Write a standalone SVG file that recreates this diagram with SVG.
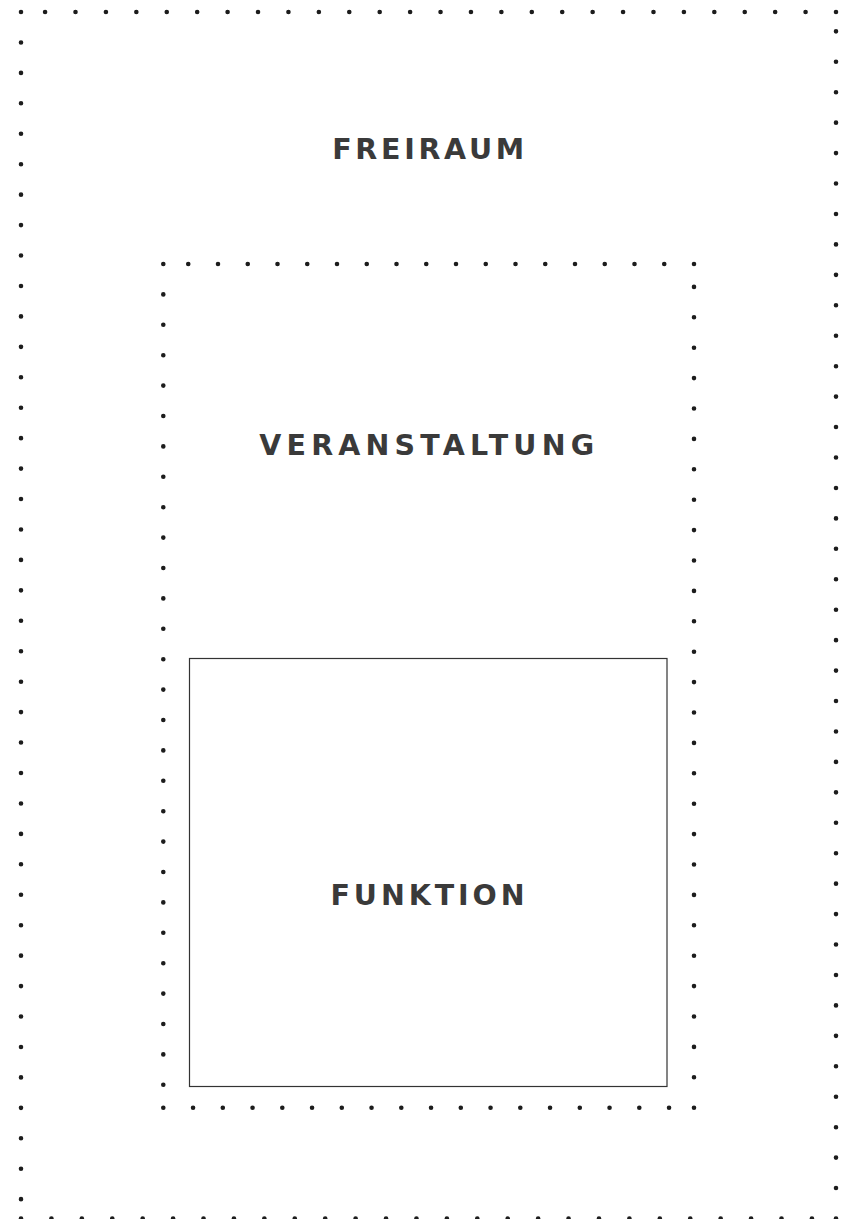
<svg xmlns="http://www.w3.org/2000/svg" width="847" height="1219" viewBox="0 0 847 1219">
  <style>
    .dots { fill: none; stroke: #1c1c1c; stroke-width: 4.6; stroke-linecap: round; }
    .lbl { font-family: "DejaVu Sans", "Liberation Sans", sans-serif; font-weight: 700; font-size: 28.5px; fill: #3a3a3a; text-anchor: middle; }
    .box { fill: none; stroke: #333333; stroke-width: 1.2; }
  </style>
  <rect width="847" height="1219" fill="#ffffff"/>
  <g id="freiraum">
    <line class="dots" x1="21" y1="12" x2="21" y2="1218.5" stroke-dasharray="0 30.44"/>
    <line class="dots" x1="21" y1="1218.5" x2="836" y2="1218.5" stroke-dasharray="0 30.42"/>
    <line class="dots" x1="836" y1="1218.5" x2="836" y2="12" stroke-dasharray="0 30.44"/>
    <line class="dots" x1="836" y1="12" x2="21" y2="12" stroke-dasharray="0 30.42"/>
    <text class="lbl" x="428.2" y="159" textLength="192" lengthAdjust="spacing">FREIRAUM</text>
  </g>
  <g id="veranstaltung">
    <line class="dots" x1="163.3" y1="264" x2="163.3" y2="1107.7" stroke-dasharray="0 30.4"/>
    <line class="dots" x1="163.3" y1="1107.7" x2="694" y2="1107.7" stroke-dasharray="0 29.75"/>
    <line class="dots" x1="694" y1="1107.7" x2="694" y2="264" stroke-dasharray="0 30.4"/>
    <line class="dots" x1="694" y1="264" x2="163.3" y2="264" stroke-dasharray="0 29.75"/>
    <text class="lbl" x="426.7" y="454.5" textLength="335" lengthAdjust="spacing">VERANSTALTUNG</text>
  </g>
  <g id="funktion">
    <rect class="box" x="189.5" y="658.5" width="477.5" height="428"/>
    <text class="lbl" x="427.5" y="904.5" textLength="194" lengthAdjust="spacing">FUNKTION</text>
  </g>
  <g id="connectors"/>
</svg>
